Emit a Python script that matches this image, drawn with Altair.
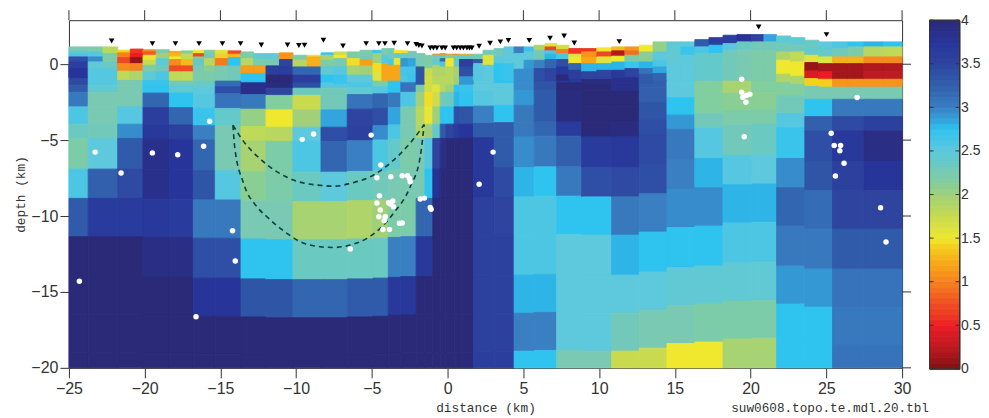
import altair as alt
import pandas as pd

X_TICKS = [-25, -20, -15, -10, -5, 0, 5, 10, 15, 20, 25, 30]
Y_TICKS = [0, -5, -10, -15, -20]
CB_TICKS = [0, 0.5, 1, 1.5, 2, 2.5, 3, 3.5, 4]
COLOR_STOPS = [0, .25, .5, .75, 1, 1.3, 1.5, 1.75, 2, 2.25, 2.5, 2.75, 2.85, 3, 3.25, 3.5, 3.75, 4]
COLOR_HEX = ["#7D1214", "#BE1A22", "#ED1C24", "#EF4E24", "#F58220", "#F6B81C", "#F0E82E", "#C9DA4E",
             "#A2D07A", "#7AC9B2", "#5EC8DC", "#2FC3F0", "#33A5DE", "#3A7FC2", "#3260AC", "#2E449F",
             "#27359A", "#2A2A78"]

# deep layers: bottom elevation (km) at the reference column, top to bottom
LAYER_BOTTOMS = [-1.38, -1.85, -2.81, -3.95, -4.89, -6.91, -8.84, -11.36, -13.99, -16.5, -19, -21]

# x0, x1, layer shift, log-resistivity per layer
COARSE = [
    (-25, -23.73, 0, [3.45, 3.3, 3.05, 2.6, 2.35, 2.2, 2.6, 3.3, 4, 4, 4, 4]),
    (-23.73, -21.78, 0, [2.55, 2.45, 2.25, 2.25, 2.3, 2.5, 3.25, 3.65, 4, 4, 4, 4]),
    (-21.78, -20.11, 0, [2.25, 2.25, 2.25, 2.55, 2.95, 3.3, 3.45, 3.65, 4, 4, 4, 4]),
    (-20.11, -18.37, -.05, [2.7, 2.75, 3.2, 3.6, 3.7, 3.85, 3.85, 3.7, 3.9, 4, 4, 4]),
    (-18.37, -16.79, -.05, [2.3, 2.45, 2.75, 3.2, 3.55, 3.75, 3.75, 3.65, 3.9, 4, 4, 4]),
    (-16.79, -15.34, -.1, [2.35, 2.5, 2.55, 2.7, 3.0, 3.2, 3.35, 3.05, 3.4, 3.75, 4, 4]),
    (-15.34, -13.64, -.1, [3.15, 3.4, 3.1, 2.4, 2.25, 2.25, 2.55, 3.05, 3.4, 3.75, 4, 4]),
    (-13.64, -11.99, -.15, [3.85, 3.85, 3.05, 2.05, 1.8, 1.95, 2.1, 2.25, 2.75, 3.35, 4, 4]),
    (-11.99, -10.21, -.2, [3.95, 3.5, 2.15, 1.5, 1.85, 2.2, 2.2, 2.25, 2.75, 3.35, 4, 4]),
    (-10.21, -8.36, -.2, [3.4, 2.35, 1.75, 2.0, 2.5, 2.6, 2.35, 1.95, 2.35, 3.2, 4, 4]),
    (-8.36, -6.63, -.2, [2.55, 2.3, 2.3, 2.85, 3.4, 3.2, 2.5, 1.95, 2.35, 3.2, 4, 4]),
    (-6.63, -4.93, -.15, [2.6, 2.45, 3.1, 3.5, 3.55, 3.0, 2.35, 1.9, 2.35, 3.3, 4, 4]),
    (-4.93, -3.92, -.1, [2.2, 2.55, 3.2, 3.4, 2.95, 2.6, 2.3, 2.0, 2.35, 3.3, 4, 4]),
    (-3.92, -3.09, -.05, [2.75, 2.75, 3.05, 2.85, 2.6, 2.4, 2.25, 2.2, 3.0, 3.7, 4, 4]),
    (-3.09, -2.08, 0, [3.1, 3.1, 2.6, 2.25, 2.25, 2.2, 2.25, 2.2, 3.0, 3.7, 4, 4]),
    (-2.08, -1.5, 0, [3.35, 2.2, 2.0, 1.85, 1.9, 2.25, 2.25, 3.2, 3.7, 4, 4, 4]),
    (-1.5, -.98, 0, [1.7, 1.7, 1.45, 1.55, 2.0, 2.55, 2.75, 3.2, 3.7, 4, 4, 4]),
    (-.98, -.49, 0, [1.75, 1.6, 1.7, 2.0, 2.4, 3.5, 3.8, 4, 4, 4, 4, 4]),
    (-.49, -.12, 0, [1.85, 1.85, 2.3, 2.75, 3.3, 3.9, 4, 4, 4, 4, 4, 4]),
    (-.12, .43, 0, [1.85, 2.0, 2.35, 2.75, 3.5, 4, 4, 4, 4, 4, 4, 4]),
    (.43, .78, 0, [2.0, 2.75, 2.8, 3.4, 3.65, 4, 4, 4, 4, 4, 4, 4]),
    (.78, 1.7, 0, [2.9, 2.7, 2.75, 3.35, 3.75, 4, 4, 4, 4, 4, 4, 4]),
    (1.7, 3.07, .05, [2.5, 2.5, 2.55, 3.0, 3.3, 3.7, 3.7, 3.55, 3.55, 3.55, 3.55, 3.6]),
    (3.07, 4.39, .1, [2.75, 2.5, 2.5, 2.75, 3.3, 3.3, 3.45, 3.5, 3.55, 3.55, 3.55, 3.6]),
    (4.39, 5.71, .1, [2.95, 2.95, 2.9, 3.05, 3.05, 2.95, 2.8, 2.6, 2.6, 2.8, 3.0, 2.75]),
    (5.71, 7.2, .15, [3.4, 3.35, 3.3, 3.3, 3.2, 3.05, 2.75, 2.6, 2.6, 2.8, 3.0, 2.75]),
    (7.2, 8.85, .15, [3.7, 4.0, 3.95, 3.95, 3.65, 3.25, 3.05, 2.75, 2.5, 2.5, 2.5, 2.25]),
    (8.85, 10.83, .1, [3.95, 4, 4, 4, 4, 3.65, 3.4, 2.75, 2.5, 2.5, 2.5, 2.25]),
    (10.83, 12.65, .1, [3.85, 3.85, 4, 4, 3.95, 3.7, 3.45, 3.05, 2.8, 2.5, 2.3, 1.75]),
    (12.65, 14.48, .3, [3.3, 3.25, 3.25, 3.35, 3.4, 3.45, 3.4, 3.0, 2.75, 2.5, 2.25, 1.75]),
    (14.48, 16.32, .6, [2.5, 2.5, 2.5, 2.75, 2.9, 3.05, 3.0, 2.95, 2.75, 2.45, 2.25, 1.5]),
    (16.32, 18.18, .7, [2.3, 2.2, 2.15, 2.15, 2.3, 2.55, 2.8, 2.95, 2.75, 2.45, 2.2, 1.5]),
    (18.18, 20.07, .9, [2.1, 2.0, 1.95, 2.1, 2.2, 2.3, 2.55, 2.8, 2.6, 2.45, 2.2, 1.95]),
    (20.07, 21.72, .95, [2.15, 2.15, 2.15, 2.1, 2.2, 2.35, 2.5, 2.8, 2.6, 2.45, 2.2, 1.95]),
    (21.72, 23.58, .7, [2.15, 2.15, 2.15, 2.3, 2.55, 2.7, 2.95, 3.2, 3.05, 2.9, 2.75, 2.75]),
    (23.58, 25.41, .5, [2.25, 2.25, 2.25, 2.75, 3.25, 3.4, 3.35, 3.15, 3.05, 2.9, 2.75, 2.75]),
    (25.41, 27.48, .5, [2.25, 2.25, 2.25, 3.05, 3.45, 3.7, 3.55, 3.5, 3.3, 3.1, 3.05, 3.1]),
    (27.48, 30, .5, [2.25, 2.25, 2.25, 3.05, 3.55, 3.9, 3.75, 3.5, 3.3, 3.1, 3.05, 3.1]),
]

# x0, x1, surface elevation, (cell bottom, log-resistivity) from the surface down
SHALLOW = [
    (-25, -23.73, 1.14, [(.88, 2.25), (.70, 2.4), (.48, 2.6), (.15, 3.4), (-.29, 3.6), (-.88, 3.75)]),
    (-23.73, -22.75, 1.14, [(.81, 2.2), (.48, 2.55), (.15, 2.95), (-.29, 2.45), (-.88, 2.55)]),
    (-22.75, -21.78, 1.14, [(.70, 1.85), (.15, 2.2), (-.29, 2.35), (-.88, 2.55)]),
    (-21.78, -20.95, .92, [(.75, 1.4), (.44, 1.0), (.04, .7), (-.46, 1.05), (-1.01, 1.8)]),
    (-20.95, -20.11, 1.0, [(.70, .6), (.44, .5), (.04, .1), (-.46, 1.0), (-1.01, 1.9)]),
    (-20.11, -19.24, .95, [(.81, 1.05), (.59, .8), (.26, 1.55), (-.07, 1.75), (-.5, 2.2), (-1.01, 2.45)]),
    (-19.24, -18.37, .95, [(.70, 2.2), (.37, 2.0), (-.07, 2.5), (-.5, 2.3), (-1.01, 2.6)]),
    (-18.37, -17.58, .85, [(.70, 1.2), (.48, 1.3), (.31, 1.5), (-.11, 1.05), (-.5, .75), (-1.05, 1.8)]),
    (-17.58, -16.79, .88, [(.66, 2.1), (.31, 1.8), (-.11, 1.3), (-.5, .75), (-1.05, 1.8)]),
    (-16.79, -16.06, .92, [(.70, 1.5), (.48, .7), (.31, 2.2), (-.11, 2.4), (-.5, 2.25), (-1.05, 2.2)]),
    (-16.06, -15.34, .92, [(.70, 2.2), (.37, 2.3), (-.11, 1.85), (-.5, 2.1), (-1.05, 2.2)]),
    (-15.34, -14.49, .92, [(.66, 1.6), (.37, 1.4), (-.11, .95), (-1.05, 2.25)]),
    (-14.49, -13.64, .88, [(.66, .7), (.44, 1.3), (-.11, 2.75), (-1.05, 2.3)]),
    (-13.64, -12.81, .81, [(.37, 2.2), (-.11, 1.85), (-.61, 1.15), (-1.16, 2.75)]),
    (-12.81, -11.99, .70, [(.31, 2.45), (-.11, 2.2), (-.61, 1.15), (-1.16, 2.75)]),
    (-11.99, -11.1, .70, [(.31, 2.45), (-.11, 2.25), (-.72, 3.6), (-1.16, 4.0)]),
    (-11.1, -10.21, .75, [(.31, 1.1), (-.18, 3.5), (-.72, 3.6), (-1.16, 4.0)]),
    (-10.21, -9.28, .59, [(.26, 2.2), (-.18, 1.85), (-.72, 3.2), (-1.16, 3.6)]),
    (-9.28, -8.36, .59, [(.48, 1.6), (-.18, 1.25), (-.72, 3.2), (-1.16, 3.6)]),
    (-8.36, -7.5, .75, [(.59, 2.7), (.26, 1.95), (-.18, 2.2), (-.72, 2.45), (-1.16, 2.75)]),
    (-7.5, -6.63, .81, [(.59, 1.7), (.37, 1.5), (-.18, 2.25), (-.72, 2.55), (-1.27, 2.7)]),
    (-6.63, -5.78, .81, [(.37, 2.2), (-.11, 1.45), (-.72, 1.95), (-1.16, 2.5)]),
    (-5.78, -4.93, .92, [(.59, 2.2), (.31, 2.3), (-.11, 1.15), (-.72, 2.0), (-1.16, 2.5)]),
    (-4.93, -4.34, .92, [(.70, 2.7), (.04, 2.0), (-.5, 1.45), (-1.05, 1.6)]),
    (-4.34, -3.92, 1.03, [(.59, 2.2), (.04, 2.55), (-1.05, 1.2)]),
    (-3.92, -3.53, 1.03, [(.31, 2.3), (-.07, 2.6), (-1.05, 1.2)]),
    (-3.53, -3.09, .92, [(.70, 1.5), (.37, 2.4), (-.07, 1.55), (-1.05, 1.2)]),
    (-3.09, -2.6, .88, [(.70, 1.45), (.37, 2.35), (-.18, 2.9), (-.72, 2.65), (-1.16, 2.6)]),
    (-2.6, -2.08, .85, [(.37, 2.3), (-.18, 2.85), (-.72, 2.65), (-1.16, 2.7)]),
    (-2.08, -1.5, .70, [(-.18, 2.25), (-1.27, 3.35)]),
    (-1.5, -.98, .59, [(-.29, 2.2), (-.83, 1.75), (-1.27, 1.7)]),
    (-.98, -.49, .66, [(.59, 1.0), (.31, 2.3), (-.07, 2.4), (-.79, 1.9), (-1.27, 1.85)]),
    (-.49, -.12, .70, [(.59, 1.1), (.37, 2.4), (.15, 3.2), (-.18, 2.6), (-.79, 1.9), (-1.27, 1.85)]),
    (-.12, .43, .66, [(.59, 1.1), (.37, 2.2), (-.18, 1.5), (-1.27, 1.85)]),
    (.43, .78, .66, [(.59, 1.0), (.31, 2.3), (-.18, 2.4), (-.79, 1.95), (-1.27, 2.0)]),
    (.78, 1.7, .66, [(.59, 1.2), (.31, 2.4), (-.18, 3.6), (-.83, 3.4), (-1.27, 2.9)]),
    (1.7, 2.34, .66, [(.31, 2.3), (.04, 3.3), (-1.05, 2.55)]),
    (2.34, 3.07, .92, [(.59, 2.3), (-.07, 1.6), (-1.05, 2.5)]),
    (3.07, 3.72, 1.03, [(.48, 2.3), (.04, 2.55), (-1.05, 2.75)]),
    (3.72, 4.39, 1.14, [(.04, 2.5), (-1.05, 2.7)]),
    (4.39, 5.05, 1.14, [(.70, 3.0), (-.33, 2.5), (-1.05, 2.95)]),
    (5.05, 5.71, 1.14, [(.81, 2.7), (.26, 2.5), (-.29, 2.9), (-1.05, 2.95)]),
    (5.71, 6.43, 1.25, [(.92, 1.9), (.26, 2.3), (-.29, 3.0), (-1.05, 3.4)]),
    (6.43, 7.2, 1.36, [(1.14, 1.6), (.88, .7), (.66, 2.6), (.31, 2.8), (-.29, 3.2), (-1.05, 3.5)]),
    (7.2, 8.0, 1.25, [(.97, 1.7), (.70, 1.0), (.31, 2.6), (-.18, 3.4), (-.72, 3.7), (-1.05, 4.0)]),
    (8.0, 8.85, 1.03, [(.66, .6), (.44, 1.6), (.04, 1.5), (-.4, 3.2), (-.94, 3.6)]),
    (8.85, 9.85, 1.03, [(.81, .6), (.44, 1.1), (.04, 1.2), (-.5, 2.8), (-.94, 3.5)]),
    (9.85, 10.83, 1.08, [(.81, 1.5), (.48, .7), (.04, 1.6), (-.4, 2.8), (-.94, 3.5)]),
    (10.83, 11.7, 1.14, [(.88, 1.3), (.53, .2), (.15, 1.5), (-.4, 2.8), (-.88, 3.7)]),
    (11.7, 12.65, 1.14, [(.88, 1.1), (.59, .9), (.15, 2.2), (-.29, 2.7), (-.83, 3.5)]),
    (12.65, 13.56, 1.25, [(.81, 1.5), (.15, 2.1), (-.29, 2.8), (-.66, 3.1), (-1.27, 3.3)]),
    (13.56, 14.48, 1.47, [(.81, 2.05), (.26, 2.5), (-.18, 2.6), (-.61, 2.85), (-1.05, 3.2)]),
    (14.48, 15.4, 1.47, [(.04, 2.45), (-1.05, 2.5)]),
    (15.4, 16.32, 1.47, [(1.14, 2.5), (.59, 2.7), (-1.05, 2.5)]),
    (16.32, 17.25, 1.62, [(1.14, 3.3), (.7, 2.6), (-1.05, 2.4)]),
    (17.25, 18.18, 1.75, [(1.25, 3.6), (.7, 2.75), (-1.05, 2.4)]),
    (18.18, 19.1, 1.91, [(1.36, 3.6), (.92, 2.55), (-1.05, 2.3)]),
    (19.1, 20.07, 1.95, [(1.47, 3.8), (.92, 2.35), (-1.05, 2.25)]),
    (20.07, 20.88, 1.95, [(1.47, 3.5), (.92, 2.3), (-1.05, 2.2)]),
    (20.88, 21.72, 1.95, [(1.47, 2.85), (.92, 2.3), (-1.05, 2.2)]),
    (21.72, 22.65, 1.86, [(1.36, 2.45), (.81, 2.3), (.26, 1.9), (-.66, 1.5), (-1.16, 1.9)]),
    (22.65, 23.58, 1.75, [(1.25, 2.45), (.81, 2.3), (.15, 1.8), (-.79, 1.5), (-1.27, 1.9)]),
    (23.58, 24.5, 1.58, [(1.03, 2.35), (.59, 2.4), (.11, 1.6), (-.44, .1), (-.94, .4), (-1.4, 1.4)]),
    (24.5, 25.41, 1.47, [(.97, 2.5), (.48, 2.4), (.04, 1.6), (-.5, .15), (-.99, .5), (-1.45, 1.4)]),
    (25.41, 26.44, 1.47, [(1.03, 2.6), (.48, 2.3), (.04, 1.25), (-.46, .15), (-.99, .15), (-1.45, 1.1)]),
    (26.44, 27.48, 1.47, [(1.14, 2.75), (.48, 2.2), (.04, 1.25), (-.46, .15), (-.99, .15), (-1.45, 1.1)]),
    (27.48, 28.74, 1.47, [(1.14, 2.8), (.48, 1.85), (.04, 1.05), (-.46, .2), (-.99, .25), (-1.45, 1.1)]),
    (28.74, 30, 1.47, [(1.14, 2.75), (.48, 1.8), (.04, 1.05), (-.46, .2), (-.99, .25), (-1.45, 1.1)]),
]

QUAKE_X = [-23.27, -21.56, -19.49, -17.82, -16.11, -15.71, -9.6, -8.85, -5.05, 3.0, 2.08, -4.41, -4.67, -3.75,
           -3.0, -2.65, -2.52, -2.47, -4.5, -1.81, -1.53, -1.15, -1.09, -4.67, -3.9, -3.62, -3.79, -4.45, -4.54,
           -4.12, -4.19, -3.58, -3.18, -3.0, -4.27, -3.84, -6.43, -24.31, -16.61, -14.2, -14.02, 19.41, 19.74,
           19.49, 19.95, 19.69, 19.41, 19.58, 27.03, 25.32, 25.52, 25.94, 25.89, 26.17, 25.6, 28.58, 28.94]
QUAKE_Z = [-5.79, -7.17, -5.84, -5.97, -5.41, -3.75, -4.95, -4.59, -4.67, -5.79, -7.91, -6.64, -7.48, -7.41,
           -7.35, -7.35, -7.52, -7.74, -8.66, -8.88, -8.82, -9.43, -9.56, -9.14, -9.13, -9.01, -9.21, -9.61, -10.05,
           -10.05, -10.31, -9.39, -10.48, -10.46, -10.88, -10.88, -12.17, -14.3, -16.63, -10.97, -12.96, -.99, -2.04,
           -2.17, -1.97, -2.5, -1.84, -4.78, -2.19, -4.54, -5.35, -5.35, -5.7, -6.53, -7.37, -9.45, -11.71]

STATION_X = [-22.18, -19.49, -17.97, -16.41, -14.87, -13.67, -12.3, -10.57, -9.82, -9.45, -8.2, -6.91, -5.38, -4.54,
             -4.14, -3.53, -2.65, -2.08, -1.9, -1.7, -1.15, -.94, -.71, -.38, -.16, .38, .6, .83, 1.04, 1.27, 1.44,
             1.6, 2.08, 2.8, 3.48, 4.01, 5.39, 6.76, 7.69, 8.36, 11.33, 20.53, 25.01]
STATION_Z = [1.53, 1.36, 1.36, 1.36, 1.36, 1.36, 1.27, 1.27, 1.23, 1.25, 1.58, 1.2, 1.36, 1.36,
             1.36, 1.38, 1.36, 1.3, 1.23, 1.2, 1.07, 1.07, 1.07, 1.07, 1.07, 1.07, 1.07, 1.07, 1.07, 1.07, 1.07,
             1.07, 1.18, 1.38, 1.47, 1.56, 1.56, 1.71, 1.86, 1.4, 1.49, 2.45, 1.95]

UPPER_X = [-14.17, -13.69, -12.15, -10.17, -8.41, -7.42, -6.43, -4.89, -3.79, -2.69, -1.81, -1.55]
UPPER_Z = [-4.01, -4.78, -6.43, -7.63, -7.98, -8.03, -7.85, -7.3, -6.51, -5.44, -4.34, -3.97]
LOWER_X = [-14.17, -14.06, -13.47, -12.59, -11.93, -10.61, -9.73, -8.41, -7.55, -6.43, -5.33, -4.45, -3.58, -2.47, -1.81, -1.55]
LOWER_Z = [-4.01, -5.44, -7.85, -9.39, -10.05, -11.14, -11.69, -12.02, -12.07, -11.91, -11.47, -10.81, -9.82, -8.07, -6.1, -3.97]

W, H = 834, 348
INK = "#333333"
XD = [-25, 30]
YD = [-20, 2.9]

rows = []
for x0, x1, shift, vals in COARSE:
    top = 0.0
    for bottom, v in zip(LAYER_BOTTOMS, vals):
        b = bottom + shift
        rows.append(dict(x=x0, x2=x1, y=top, y2=max(b, -20), v=v))
        top = b
for x0, x1, top, cells in SHALLOW:
    for b, v in cells:
        rows.append(dict(x=x0, x2=x1, y=top, y2=b, v=v))
        top = b
cells_df = pd.DataFrame(rows)

cscale = alt.Scale(domain=COLOR_STOPS, range=COLOR_HEX)
xs = alt.Scale(domain=XD, nice=False, zero=False)
ys = alt.Scale(domain=YD, nice=False, zero=False)
FONT = "Liberation Sans"
MONO = "Liberation Mono"

xax = alt.Axis(values=X_TICKS, title="distance (km)", grid=False, domain=False, tickSize=10, tickColor=INK,
               labelColor=INK, labelFont=FONT, labelFontSize=16, labelPadding=3, format="d", labelFlush=False,
               labelOverlap=False,
               titleFont=MONO, titleFontSize=12.8, titleFontWeight="normal", titleColor=INK, titlePadding=5)
yax = alt.Axis(values=Y_TICKS, title="depth (km)", grid=False, domain=False, tickSize=9, tickColor=INK,
               labelColor=INK, labelFont=FONT, labelFontSize=16, labelPadding=2, format="d", labelFlush=False,
               labelOverlap=False,
               titleFont=MONO, titleFontSize=12.8, titleFontWeight="normal", titleColor=INK, titlePadding=3.5)

mesh = alt.Chart(cells_df).mark_rect(strokeWidth=0.9).encode(
    x=alt.X("x:Q", scale=xs, axis=xax),
    x2="x2:Q",
    y=alt.Y("y:Q", scale=ys, axis=yax),
    y2="y2:Q",
    color=alt.Color("v:Q", scale=cscale, legend=None),
    stroke=alt.Stroke("v:Q", scale=cscale, legend=None),
)

curves = pd.DataFrame(
    [dict(c="u", i=i, x=x, z=z) for i, (x, z) in enumerate(zip(UPPER_X, UPPER_Z))]
    + [dict(c="l", i=i, x=x, z=z) for i, (x, z) in enumerate(zip(LOWER_X, LOWER_Z))]
)
dash = alt.Chart(curves).mark_line(color="#0E3F3C", strokeWidth=1.6, strokeDash=[5, 4], interpolate="monotone").encode(
    x=alt.X("x:Q", scale=xs), y=alt.Y("z:Q", scale=ys), detail="c:N", order="i:Q")

quakes = alt.Chart(pd.DataFrame(dict(x=QUAKE_X, z=QUAKE_Z))).mark_circle(color="white", size=30, opacity=1).encode(
    x=alt.X("x:Q", scale=xs), y=alt.Y("z:Q", scale=ys))
stations = alt.Chart(pd.DataFrame(dict(x=STATION_X, z=STATION_Z))).mark_point(
    shape="triangle-down", filled=True, color="black", size=32, opacity=1).encode(
    x=alt.X("x:Q", scale=xs), y=alt.Y("z:Q", scale=ys))

top_ticks = alt.Chart(pd.DataFrame(dict(x=X_TICKS))).mark_rule(color=INK, strokeWidth=1).encode(
    x=alt.X("x:Q", scale=xs), y=alt.value(-10), y2=alt.value(0))
right_ticks = alt.Chart(pd.DataFrame(dict(z=Y_TICKS))).mark_rule(color=INK, strokeWidth=1).encode(
    y=alt.Y("z:Q", scale=ys), x=alt.value(W), x2=alt.value(W + 9))
footer = alt.Chart(pd.DataFrame(dict(t=["suw0608.topo.te.mdl.20.tbl"]))).mark_text(
    align="left", baseline="middle", font=MONO, fontSize=12.7, color=INK).encode(
    x=alt.value(663), y=alt.value(388), text="t:N")

main = alt.layer(mesh, dash, quakes, stations, top_ticks, right_ticks, footer).properties(width=W, height=H)

bar_levels = [i / 16 for i in range(64)]
bar = pd.DataFrame(dict(v=bar_levels, v2=[b + 1 / 16 for b in bar_levels], c=[b + 1 / 32 for b in bar_levels]))
cb_y = alt.Scale(domain=[0, 4], nice=False, zero=False)
cb_rect = alt.Chart(bar).mark_rect(strokeWidth=0.9).encode(
    x=alt.value(0), x2=alt.value(30),
    y=alt.Y("v:Q", scale=cb_y, axis=alt.Axis(orient="right", values=CB_TICKS, title=None, grid=False, domain=False,
                                             tickSize=0, labelColor=INK, labelFont=FONT, labelFontSize=14,
                                             labelPadding=1, format="~g", labelFlush=False, labelOverlap=False)),
    y2="v2:Q",
    color=alt.Color("c:Q", scale=cscale, legend=None),
    stroke=alt.Stroke("c:Q", scale=cscale, legend=None),
)
cb_l = alt.Chart(pd.DataFrame(dict(z=CB_TICKS))).mark_rule(color=INK).encode(
    y=alt.Y("z:Q", scale=cb_y), x=alt.value(0), x2=alt.value(4))
cb_r = alt.Chart(pd.DataFrame(dict(z=CB_TICKS))).mark_rule(color=INK).encode(
    y=alt.Y("z:Q", scale=cb_y), x=alt.value(26), x2=alt.value(30))
cb_frame = alt.Chart(pd.DataFrame(dict(a=[0]))).mark_rect(fill=None, stroke=INK, strokeWidth=1).encode(
    x=alt.value(0), x2=alt.value(30), y=alt.value(0), y2=alt.value(349))
cbar = alt.layer(cb_rect, cb_l, cb_r, cb_frame).properties(width=30, height=349)

chart = alt.hconcat(main, cbar, spacing=27.5, bounds="flush").resolve_scale(
    color="independent", stroke="independent", y="independent", x="independent"
).configure_view(stroke=INK, strokeWidth=1).properties(
    padding={"left": 5, "top": 1, "right": 0, "bottom": 0}, background="white")

chart.save("out.html", embed_options={"renderer": "svg", "actions": False})
